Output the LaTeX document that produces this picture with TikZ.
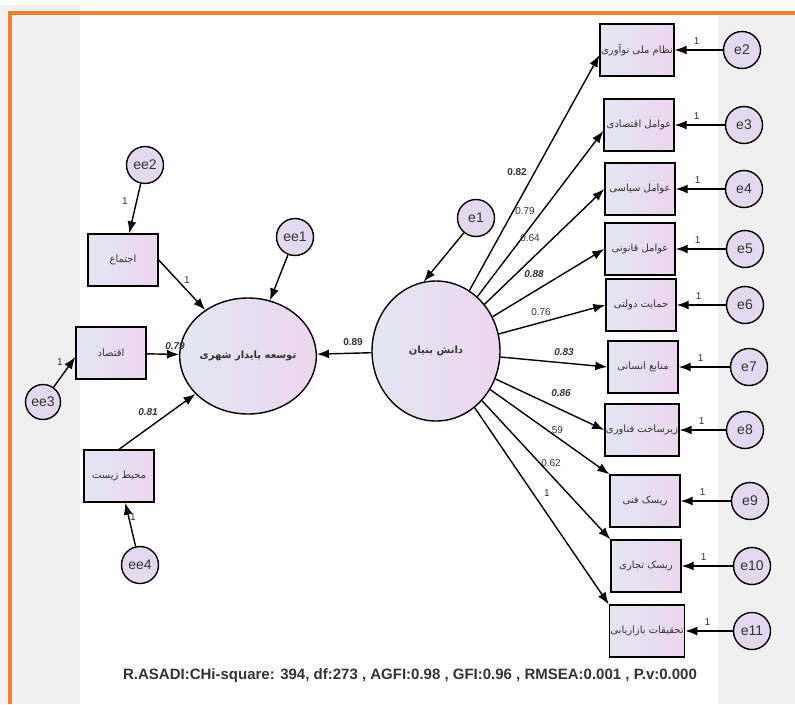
\documentclass[tikz,border=0pt]{standalone}
\usepackage{fontspec}
\setmainfont{Liberation Sans}
\newfontfamily\fa[Script=Arabic]{DejaVu Sans}
\TeXXeTstate=1
\usetikzlibrary{arrows.meta,shapes.geometric,calc}
\definecolor{bggrey}{HTML}{F0F0F0}
\definecolor{orng}{HTML}{FA7D28}
\definecolor{boxL}{HTML}{E3E6F1}
\definecolor{boxR}{HTML}{ECD6EF}
\definecolor{circ}{HTML}{E4D8EE}
\definecolor{labc}{HTML}{333333}
\tikzset{
  obs/.style={draw, line width=1.4pt, rectangle, minimum width=70pt, minimum height=52pt,
    left color=boxL, right color=boxR, inner sep=1pt, text=labc,
    font=\fa\fontsize{10}{12}\selectfont},
  errc/.style={draw, circle, line width=1.4pt, minimum size=37pt, inner sep=0pt, fill=circ,
    text=labc, font=\fontsize{14}{16}\selectfont},
  lat/.style={draw, ellipse, line width=1.4pt, inner sep=0pt, left color=boxL, right color=boxR,
    text=labc, font=\fa\bfseries\fontsize{10}{12}\selectfont},
  arr/.style={line width=1.4pt, -{Latex[length=12pt,width=9pt]}},
  lab/.style={text=labc, font=\fontsize{10}{11}\selectfont, inner sep=0pt},
  labb/.style={text=labc, font=\bfseries\fontsize{10}{11}\selectfont, inner sep=0pt},
  labbi/.style={text=labc, font=\bfseries\itshape\fontsize{10}{11}\selectfont, inner sep=0pt},
}
\begin{document}
\begin{tikzpicture}[x=1pt,y=-1pt]
\useasboundingbox (0,0) rectangle (795,704);
\fill[white] (0,0) rectangle (795,704);
\fill[bggrey] (0,5) rectangle (80,704);
\fill[bggrey] (718,15) rectangle (795,704);
\draw[orng, line width=4pt] (10,704) -- (10,13) -- (795,13);

% latent variables
\node[lat, minimum width=128pt, minimum height=140pt] (k) at (436,351) {\beginR دانش بنیان\endR};
\node[lat, minimum width=124pt, minimum height=116pt] (t) at (248,356) {\beginR توسعه پایدار شهری\endR};

% right observed
\node[obs] (b1) at (637,50) {\beginR نظام ملی نوآوری\endR};
\node[obs] (b2) at (639,125) {\beginR عوامل اقتصادی\endR};
\node[obs] (b3) at (640,189) {\beginR عوامل سیاسی\endR};
\node[obs] (b4) at (640,249) {\beginR عوامل قانونی\endR};
\node[obs] (b5) at (641,305) {\beginR حمایت دولتی\endR};
\node[obs] (b6) at (643,367) {\beginR منابع انسانی\endR};
\node[obs] (b7) at (642,430) {\beginR زیرساخت فناوری\endR};
\node[obs] (b8) at (645,501) {\beginR ریسک فنی\endR};
\node[obs] (b9) at (646,566) {\beginR ریسک تجاری\endR};
\node[obs] (b10) at (647,631) {\beginR تحقیقات بازاریابی\endR};

% right errors
\node[errc] (e2) at (742,50) {e2};
\node[errc] (e3) at (744,125) {e3};
\node[errc] (e4) at (744,189) {e4};
\node[errc] (e5) at (745,249) {e5};
\node[errc] (e6) at (745,305) {e6};
\node[errc] (e7) at (749,367) {e7};
\node[errc] (e8) at (745,430) {e8};
\node[errc] (e9) at (750,501) {e9};
\node[errc] (e10) at (752,566) {e10};
\node[errc] (e11) at (752,631) {e11};

% other errors
\node[errc] (e1) at (476,218) {e1};
\node[errc] (ee1) at (295,237) {ee1};
\node[errc] (ee2) at (145,165) {ee2};
\node[errc, minimum size=35pt] (ee3) at (43,402) {ee3};
\node[errc] (ee4) at (140,565) {ee4};

% left observed
\node[obs] (l1) at (123,260) {\beginR اجتماع\endR};
\node[obs] (l2) at (111,353) {\beginR اقتصاد\endR};
\node[obs] (l3) at (119,476) {\beginR محیط زیست\endR};

% error arrows right
\foreach \e/\b in {e2/b1,e3/b2,e4/b3,e5/b4,e6/b5,e7/b6,e8/b7,e9/b8,e10/b9,e11/b10}{
  \draw[arr] (\e) -- (\b);
  \node[lab] at ($(\b.east)+(22,-9)$) {1};
}

% fan arrows
\draw[arr] (k) -- ($(b1.west)+(0,5)$);
\draw[arr] (k) -- ($(b2.west)+(0,6)$);
\draw[arr] (k) -- (b3.west);
\draw[arr] (k) -- (b4.west);
\draw[arr] (k) -- (b5.west);
\draw[arr] (k) -- (b6.west);
\draw[arr] (k) -- (b7.west);
\draw[arr] (k) -- (b8.north west);
\draw[arr] (k) -- (b9.north west);
\draw[arr] (k) -- (b10.north west);

\node[labb] at (517,172) {0.82};
\node[lab] at (525,211) {0.79};
\node[lab] at (530,238) {0.64};
\node[labbi] at (534,274) {0.88};
\node[lab] at (541,312) {0.76};
\node[labbi] at (564,352) {0.83};
\node[labbi] at (561,393) {0.86};
\node[lab] at (556,430) {.59};
\node[lab] at (551,463) {0.62};
\node[lab] at (547,493) {1};

% structural
\draw[arr] (e1) -- (k.100);
\draw[arr] (k) -- (t);
\node[labb] at (353,342) {0.89};
\draw[arr] (ee1) -- (t);

% left side
\draw[arr] (ee2) -- (l1);
\node[lab] at (125,201) {1};
\draw[arr] (l1.east) -- (t);
\node[lab] at (187,280) {1};
\draw[arr] (l2) -- (t);
\node[labbi] at (175,346) {0.79};
\draw[arr] (l3.north) -- (t);
\node[labbi] at (148,412) {0.81};
\draw[arr] (ee3) -- ($(l2.west)+(0,4)$);
\node[lab] at (60,362) {1};
\draw[arr] (ee4) -- (l3);
\node[lab] at (133,517) {1};

\node[font=\bfseries\fontsize{15}{17}\selectfont, text=labc] (cap) at (410,676)
  {R.ASADI:CHi-square: 394, df:273 , AGFI:0.98 , GFI:0.96 , RMSEA:0.001 , P.v:0.000};
\end{tikzpicture}
\end{document}
